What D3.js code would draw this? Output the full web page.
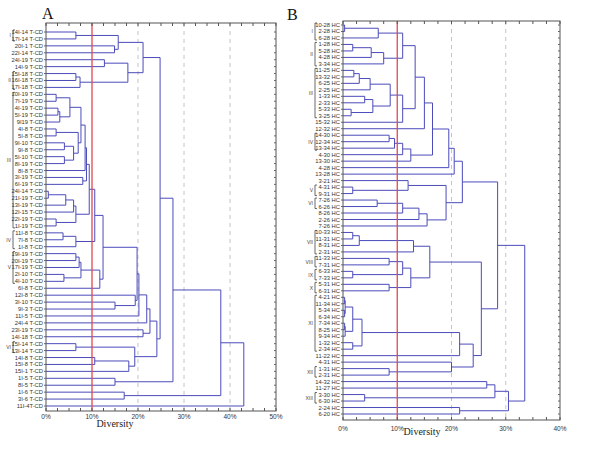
<!DOCTYPE html>
<html lang="en">
<head>
<meta charset="UTF-8">
<title>Diversity dendrograms</title>
<script src="https://cdn.jsdelivr.net/npm/d3@7"></script>
<style>
  body { margin: 0; background: #fff; }
  svg { display: block; }
  .leaf { font: 5.8px "Liberation Sans", Arial, sans-serif; fill: #333; }
  .grp { font: 5px "Liberation Sans", Arial, sans-serif; fill: #444; }
  .tick { font: 6.5px "Liberation Sans", Arial, sans-serif; fill: #333; }
  .xlab { font: 10px "Liberation Serif", "Times New Roman", serif; fill: #222; }
  .panel { font: 16px "Liberation Serif", "Times New Roman", serif; fill: #111; }
</style>
</head>
<body>
<svg width="600" height="450"></svg>
<script>
// ---- panel A ----
const leavesA = ["14I-14 T-CD","17I-14 T-CD","20I-1 T-CD","22I-14 T-CD","24I-19 T-CD","14I-9 T-CD",
  "15I-18 T-CD","16I-18 T-CD","17I-18 T-CD","10I-19 T-CD","7I-19 T-CD","4I-19 T-CD","5I-19 T-CD",
  "9I19 T-CD","4I-8 T-CD","5I-8 T-CD","9I-10 T-CD","9I-8 T-CD","5I-10 T-CD","8I-19 T-CD","8I-8 T-CD",
  "3I-19 T-CD","6I-19 T-CD","24I-14 T-CD","21I-19 T-CD","13I-19 T-CD","12I-15 T-CD","22I-19 T-CD",
  "1I-19 T-CD","11I-8 T-CD","7I-8 T-CD","1I-8 T-CD","19I-19 T-CD","20I-19 T-CD","17I-19 T-CD",
  "2I-10 T-CD","4I-10 T-CD","6I-8 T-CD","12I-8 T-CD","3I-10 T-CD","9I-3 T-CD","11I-5 T-CD",
  "24I-4 T-CD","23I-19 T-CD","14I-18 T-CD","15I-14 T-CD","13I-14 T-CD","14I-8 T-CD","15I-8 T-CD",
  "15I-1 T-CD","1I-5 T-CD","8I-5 T-CD","1I-6 T-CD","3I-6 T-CD","11I-4T-CD"];

// [id, child, child, height %]; numbers are leaf indexes, strings are earlier merges
const mergesA = [
  ["a1",0,1,6.5],["a2",2,3,14.9],["a3","a1","a2",15.7],["a4",4,5,12.7],["a5",6,7,6.5],
  ["a6","a5",8,7.4],["a7","a4","a6",17.8],["a8","a3","a7",21.1],
  ["b1",9,10,2.2],["b2",11,12,2.6],["b3","b2",13,3.0],["b4","b1","b3",5.2],
  ["c1",14,15,2.2],["c2",16,17,4.0],["c3",18,19,4.0],["c4","c2","c3",6.0],["c5","c1","c4",7.0],
  ["c6","b4","c5",7.6],["d1","c6",20,8.5],["d2",21,22,8.0],["d3","d1","d2",8.8],
  ["e1",23,24,0.5],["e2","e1",25,4.3],["e3","e2",26,6.0],["e4",27,28,2.2],["e5","e3","e4",6.5],
  ["f1","d3","e5",9.4],["g0",29,30,3.7],["g1","g0",31,6.5],["f2","f1","g1",10.6],
  ["h1",32,33,6.5],["h2","h1",34,7.2],["h3",35,36,3.9],["h4","h2","h3",7.6],["i1","h4",37,11.7],
  ["f3","f2","i1",12.4],["j1",39,40,15.0],["j2",38,"j1",19.4],["q1","f3","j2",19.8],
  ["p1","q1",41,20.2],["r1","p1",42,21.9],["t1",43,44,21.1],["s1","r1","t1",22.6],
  ["z1",45,46,6.5],["z2",47,48,10.6],["z3","z2",49,18.0],["z4","z1","z3",19.3],
  ["x1","s1","z4",24.1],["n1","a8","x1",24.8],["n2",50,51,15.0],["n3","n1","n2",27.6],
  ["n4",52,53,17.0],["n5","n3","n4",38.0],["root","n5",54,43.0]
];
const groupsA = [["I",0,1],["II",6,8],["III",9,28],["IV",29,31],["V",32,36],["VI",45,46]];
const ticksA = [0,10,20,30,40,50];
const dashedA = [20,30,40];

// ---- panel B ----
const leavesB = ["10-28 HC","2-28 HC","6-28 HC","1-28 HC","5-28 HC","4-28 HC","3-34 HC","11-25 HC",
  "13-32 HC","6-25 HC","2-25 HC","1-33 HC","2-33 HC","5-33 HC","3-25 HC","15-32 HC","12-32 HC",
  "14-30 HC","12-34 HC","13-34 HC","4-30 HC","13-30 HC","4-28 HC","13-28 HC","3-21 HC","4-31 HC",
  "9-31 HC","7-26 HC","6-26 HC","8-26 HC","2-26 HC","7-26 HC","10-33 HC","11-31 HC","8-31 HC",
  "2-31 HC","11-33 HC","7-31 HC","6-33 HC","7-33 HC","5-31 HC","6-31 HC","4-21 HC","11-34 HC",
  "5-34 HC","6-34 HC","7-34 HC","8-25 HC","9-34 HC","1-32 HC","2-34 HC","11-22 HC","4-31 HC",
  "1-31 HC","2-31 HC","14-32 HC","11-27 HC","3-30 HC","6-30 HC","2-24 HC","6-20 HC"];

const mergesB = [
  ["b1",0,1,0.3],["b2","b1",2,6.5],["b3",3,4,1.8],["b4","b3",5,5.2],["b5","b4",6,7.5],
  ["b6","b2","b5",11.0],["b7",7,8,2.0],["b8","b7",9,3.0],["b9","b8",10,5.0],["b10",11,12,4.0],
  ["b11",13,14,1.5],["b12","b10","b11",5.5],["b13","b9","b12",8.7],["b14","b13",15,11.0],
  ["b15","b6","b14",13.3],["b16","b15",16,15.0],["b17",17,18,8.5],["b18","b17",19,9.5],
  ["b19","b18",20,11.0],["b20","b19",21,12.5],["b21","b16","b20",16.5],["b22","b21",22,19.5],
  ["b23","b22",23,20.5],["b24",25,26,1.8],["b25",24,"b24",12.0],["b26",27,28,6.3],
  ["b27","b26",29,11.0],["b28","b27",30,14.0],["b29","b28",31,15.5],["b30","b25","b29",19.0],
  ["b31","b23","b30",22.0],["b32",32,33,1.8],["b33","b32",34,3.0],["b34","b33",35,13.0],
  ["b35",36,37,8.5],["b36",38,39,1.8],["b37","b35","b36",11.0],["b38",40,41,8.5],
  ["b39","b37","b38",12.5],["b40","b34","b39",16.0],
  ["c1",42,43,0.3],["c2",44,45,0.3],["c3","c1","c2",0.4],["c4",46,47,0.3],["c5","c4",48,0.4],
  ["c6","c3","c5",1.8],["c7",49,50,1.8],["c8","c6","c7",3.5],
  ["b41","c8",51,21.5],["b42",53,54,8.5],["b43",52,"b42",20.0],["b44","b41","b43",24.0],
  ["b45","b40","b44",25.5],["b46","b31","b45",28.5],["b47",55,56,26.5],["b48",57,58,4.0],
  ["b49","b47","b48",28.0],["b50",59,60,21.5],["b51","b49","b50",30.5],["root","b46","b51",33.5]
];
const groupsB = [["I",0,2],["II",3,6],["III",7,14],["IV",17,19],["V",25,26],["VI",27,28],
  ["VII",32,35],["VIII",36,37],["IX",38,39],["X",40,41],["XI",42,50],["XII",53,54],["XIII",57,58]];
const ticksB = [0,10,20,30,40];
const dashedB = [20,30];

const svg = d3.select("svg");
svg.append("rect").attr("width", 600).attr("height", 450).attr("fill", "#fff");

function drawPanel(o) {
  const g = svg.append("g");
  const x = d3.scaleLinear().domain([0, o.max]).range([o.left, o.right]);
  const y = d3.scalePoint().domain(d3.range(o.leaves.length)).range([o.firstY, o.lastY]);

  // guide lines
  g.selectAll(".dash").data(o.dashed).enter().append("line")
    .attr("x1", d => x(d)).attr("x2", d => x(d))
    .attr("y1", o.top).attr("y2", o.bottom)
    .attr("stroke", "#c4c4c4").attr("stroke-dasharray", "4,4").attr("stroke-width", 1);

  // tree
  const nodes = {};
  o.leaves.forEach((d, i) => { nodes[i] = {y: y(i), h: 0}; });
  const paths = [];
  o.merges.forEach(m => {
    const a = nodes[m[1]], b = nodes[m[2]];
    nodes[m[0]] = {y: (a.y + b.y) / 2, h: m[3]};
    paths.push({a, b, h: m[3]});
  });
  g.selectAll(".link").data(paths).enter().append("path")
    .attr("fill", "none").attr("stroke", "#4b4bbb").attr("stroke-width", 1)
    .attr("d", d => `M${x(d.a.h)},${d.a.y}H${x(d.h)}V${d.b.y}H${x(d.b.h)}`);

  // 10% threshold
  g.append("line").attr("x1", x(10)).attr("x2", x(10))
    .attr("y1", o.top).attr("y2", o.bottom)
    .attr("stroke", "#e0484f").attr("stroke-width", 1.3);

  // frame
  g.append("rect").attr("x", o.left).attr("y", o.top)
    .attr("width", o.right - o.left).attr("height", o.bottom - o.top)
    .attr("fill", "none").attr("stroke", "#555").attr("stroke-width", 1);

  // minor ticks top & bottom
  const minor = d3.range(0, o.max + 0.01, 2.5);
  g.selectAll(".mt").data(minor).enter().append("path")
    .attr("stroke", "#555")
    .attr("d", d => `M${x(d)},${o.bottom}v-3M${x(d)},${o.top}v3`);
  // leaf ticks on left and right
  g.selectAll(".lt").data(o.leaves).enter().append("path")
    .attr("stroke", "#666")
    .attr("d", (d, i) => `M${o.left},${y(i)}h-2M${o.right},${y(i)}h-2`);

  // labels
  g.selectAll(".leaf").data(o.leaves).enter().append("text")
    .attr("class", "leaf").attr("x", o.left - 3).attr("y", (d, i) => y(i) + 2)
    .attr("text-anchor", "end").text(d => d);

  g.selectAll(".tick").data(o.ticks).enter().append("text")
    .attr("class", "tick").attr("x", d => x(d)).attr("y", o.bottom + o.tickGap)
    .attr("text-anchor", "middle").text(d => d + "%");

  g.append("text").attr("class", "xlab").attr("x", o.xlabX).attr("y", o.xlabY)
    .attr("text-anchor", "middle").text("Diversity");
  g.append("text").attr("class", "panel").attr("x", o.letterX).attr("y", o.letterY).text(o.letter);

  // group brackets
  const gr = g.selectAll(".grp").data(o.groups).enter().append("g");
  gr.append("path").attr("fill", "none").attr("stroke", "#444").attr("stroke-width", 0.8)
    .attr("d", d => `M${o.brX + 2},${y(d[1]) - 2}H${o.brX}V${y(d[2]) + 2}H${o.brX + 2}`);
  gr.append("text").attr("class", "grp").attr("x", o.brX - 2)
    .attr("y", d => (y(d[1]) + y(d[2])) / 2 + 2).attr("text-anchor", "end").text(d => d[0]);
}

drawPanel({leaves: leavesA, merges: mergesA, groups: groupsA, ticks: ticksA, dashed: dashedA,
  max: 50, left: 46, right: 276, top: 23, bottom: 411, firstY: 32, lastY: 406, tickGap: 7.5,
  xlabX: 115, xlabY: 427, letter: "A", letterX: 42, letterY: 19, brX: 13});
drawPanel({leaves: leavesB, merges: mergesB, groups: groupsB, ticks: ticksB, dashed: dashedB,
  max: 40, left: 343, right: 560, top: 21, bottom: 420, firstY: 25, lastY: 414, tickGap: 11,
  xlabX: 422, xlabY: 435, letter: "B", letterX: 287, letterY: 20, brX: 315});
</script>
</body>
</html>
